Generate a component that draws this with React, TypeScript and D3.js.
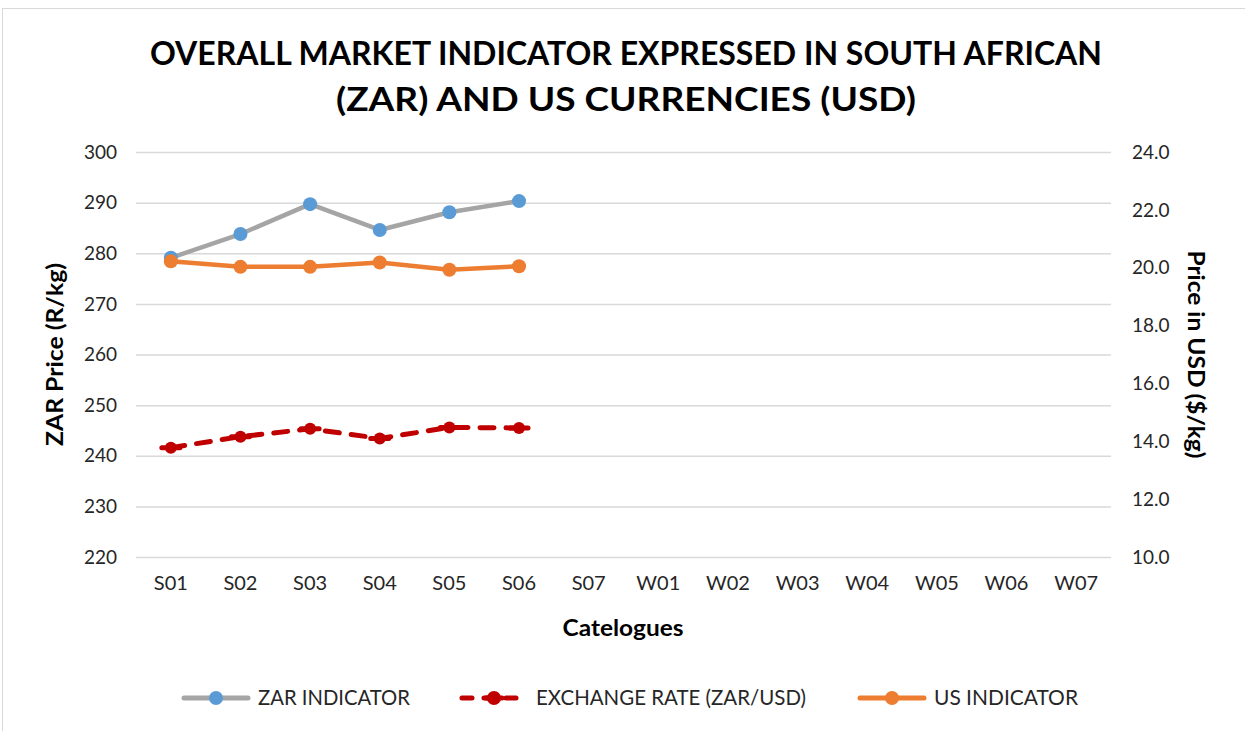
import { useEffect, useRef } from 'react';
import * as d3 from 'd3';

const catalogues = ['S01', 'S02', 'S03', 'S04', 'S05', 'S06', 'S07', 'W01', 'W02', 'W03', 'W04', 'W05', 'W06', 'W07'];
const zarIndicator = [279.1, 283.8, 289.7, 284.6, 288.1, 290.3];
const exchangeRate = [13.78, 14.16, 14.43, 14.1, 14.48, 14.46];
const usIndicator = [20.22, 20.03, 20.03, 20.18, 19.93, 20.05];
const leftTicks = [220, 230, 240, 250, 260, 270, 280, 290, 300];
const rightTicks = [10, 12, 14, 16, 18, 20, 22, 24];

const FONT = 'Lato, "Open Sans", sans-serif';

export default function App() {
  const svgRef = useRef<SVGSVGElement>(null);
  const width = 1245;
  const height = 731;

  useEffect(() => {
    if (!svgRef.current) return;
    const svg = d3.select(svgRef.current);
    svg.selectAll('*').remove();

    const plot = { left: 136, right: 1111, top: 152, bottom: 557 };

    const x = d3.scaleBand<string>()
      .domain(catalogues)
      .range([plot.left, plot.right]);
    const cx = (c: string) => (x(c) ?? 0) + x.bandwidth() / 2;
    const yLeft = d3.scaleLinear().domain([220, 300]).range([plot.bottom, plot.top]);
    const yRight = d3.scaleLinear().domain([10, 24]).range([plot.bottom, plot.top]);

    // chart border
    svg.append('rect')
      .attr('x', 2.5).attr('y', 8.5)
      .attr('width', width + 10).attr('height', height)
      .attr('fill', '#fff')
      .attr('stroke', '#d9d9d9');

    // title
    const title = ['OVERALL MARKET INDICATOR EXPRESSED IN SOUTH AFRICAN', '(ZAR) AND US CURRENCIES (USD)'];
    const titleWidths = [952, 580];
    title.forEach((t, i) => {
      svg.append('text')
        .attr('x', 626)
        .attr('y', 65 + i * 46)
        .attr('text-anchor', 'middle')
        .attr('font-family', FONT)
        .attr('font-weight', 'bold')
        .attr('font-size', 33)
        .attr('textLength', titleWidths[i])
        .attr('lengthAdjust', 'spacingAndGlyphs')
        .attr('fill', '#000')
        .text(t);
    });

    // gridlines
    svg.append('g')
      .selectAll('line')
      .data(leftTicks)
      .join('line')
      .attr('x1', plot.left)
      .attr('x2', plot.right)
      .attr('y1', (d) => yLeft(d) + 0.5)
      .attr('y2', (d) => yLeft(d) + 0.5)
      .attr('stroke', '#d9d9d9')
      .attr('stroke-width', 1.5);

    // left axis labels
    svg.append('g')
      .selectAll('text')
      .data(leftTicks)
      .join('text')
      .attr('x', 117)
      .attr('y', (d) => yLeft(d))
      .attr('dy', '0.35em')
      .attr('text-anchor', 'end')
      .attr('font-family', FONT)
      .attr('font-size', 19)
      .attr('fill', '#262626')
      .text((d) => d);

    // right axis labels
    svg.append('g')
      .selectAll('text')
      .data(rightTicks)
      .join('text')
      .attr('x', 1132)
      .attr('y', (d) => yRight(d))
      .attr('dy', '0.35em')
      .attr('text-anchor', 'start')
      .attr('font-family', FONT)
      .attr('font-size', 19)
      .attr('fill', '#262626')
      .text((d) => d.toFixed(1));

    // category labels
    svg.append('g')
      .selectAll('text')
      .data(catalogues)
      .join('text')
      .attr('x', (d) => cx(d))
      .attr('y', 590)
      .attr('text-anchor', 'middle')
      .attr('font-family', FONT)
      .attr('font-size', 20)
      .attr('fill', '#262626')
      .text((d) => d);

    // axis titles
    svg.append('text')
      .attr('transform', `translate(63, ${(plot.top + plot.bottom) / 2}) rotate(-90)`)
      .attr('text-anchor', 'middle')
      .attr('font-family', FONT)
      .attr('font-weight', 'bold')
      .attr('font-size', 23)
      .attr('textLength', 183)
      .attr('lengthAdjust', 'spacingAndGlyphs')
      .attr('fill', '#000')
      .text('ZAR Price (R/kg)');

    svg.append('text')
      .attr('transform', `translate(1188, ${(plot.top + plot.bottom) / 2}) rotate(90)`)
      .attr('text-anchor', 'middle')
      .attr('font-family', FONT)
      .attr('font-weight', 'bold')
      .attr('font-size', 23)
      .attr('textLength', 208)
      .attr('lengthAdjust', 'spacingAndGlyphs')
      .attr('fill', '#000')
      .text('Price in USD ($/kg)');

    svg.append('text')
      .attr('x', 623)
      .attr('y', 636)
      .attr('text-anchor', 'middle')
      .attr('font-family', FONT)
      .attr('font-weight', 'bold')
      .attr('font-size', 23)
      .attr('textLength', 121)
      .attr('lengthAdjust', 'spacingAndGlyphs')
      .attr('fill', '#000')
      .text('Catelogues');

    const cats = catalogues.slice(0, 6);

    // ZAR indicator
    const zarLine = d3.line<number>()
      .x((_, i) => cx(cats[i]))
      .y((d) => yLeft(d));
    svg.append('path')
      .datum(zarIndicator)
      .attr('d', zarLine)
      .attr('fill', 'none')
      .attr('stroke', '#a5a5a5')
      .attr('stroke-width', 4.5)
      .attr('stroke-linejoin', 'round');
    svg.append('g')
      .selectAll('circle')
      .data(zarIndicator)
      .join('circle')
      .attr('cx', (_, i) => cx(cats[i]))
      .attr('cy', (d) => yLeft(d))
      .attr('r', 7)
      .attr('fill', '#5b9bd5');

    // exchange rate
    const exLine = d3.line<number>()
      .x((_, i) => cx(cats[i]))
      .y((d) => yRight(d));
    svg.append('path')
      .datum(exchangeRate)
      .attr('d', exLine)
      .attr('fill', 'none')
      .attr('stroke', '#c00000')
      .attr('stroke-width', 5)
      .attr('stroke-dasharray', '14 12')
      .attr('stroke-linecap', 'round');
    const exMarks = svg.append('g')
      .selectAll('g')
      .data(exchangeRate)
      .join('g')
      .attr('transform', (d, i) => `translate(${cx(cats[i])}, ${yRight(d)})`);
    exMarks.append('circle')
      .attr('r', 6)
      .attr('fill', '#c00000');
    exMarks.append('line')
      .attr('x1', -9).attr('x2', 9)
      .attr('stroke', '#c00000')
      .attr('stroke-width', 5)
      .attr('stroke-linecap', 'round');

    // US indicator
    const usLine = d3.line<number>()
      .x((_, i) => cx(cats[i]))
      .y((d) => yRight(d));
    svg.append('path')
      .datum(usIndicator)
      .attr('d', usLine)
      .attr('fill', 'none')
      .attr('stroke', '#ed7d31')
      .attr('stroke-width', 4.5)
      .attr('stroke-linejoin', 'round');
    svg.append('g')
      .selectAll('circle')
      .data(usIndicator)
      .join('circle')
      .attr('cx', (_, i) => cx(cats[i]))
      .attr('cy', (d) => yRight(d))
      .attr('r', 7)
      .attr('fill', '#ed7d31');

    // legend
    const legendY = 698;
    const legend = [
      { label: 'ZAR INDICATOR', x: 182, w: 152, line: '#a5a5a5', marker: '#5b9bd5', dashed: false },
      { label: 'EXCHANGE RATE (ZAR/USD)', x: 460, w: 270, line: '#c00000', marker: '#c00000', dashed: true },
      { label: 'US INDICATOR', x: 858, w: 144, line: '#ed7d31', marker: '#ed7d31', dashed: false },
    ];
    legend.forEach((item) => {
      const g = svg.append('g').attr('transform', `translate(${item.x}, ${legendY})`);
      g.append('line')
        .attr('x1', 2).attr('x2', 66)
        .attr('stroke', item.line)
        .attr('stroke-width', 5)
        .attr('stroke-linecap', 'round')
        .attr('stroke-dasharray', item.dashed ? '10 12' : null);
      g.append('circle')
        .attr('cx', 34)
        .attr('r', 7)
        .attr('fill', item.marker);
      if (item.dashed) {
        g.append('line')
          .attr('x1', 26).attr('x2', 42)
          .attr('stroke', item.marker)
          .attr('stroke-width', 5)
          .attr('stroke-linecap', 'round');
      }
      g.append('text')
        .attr('x', 76)
        .attr('dy', '0.35em')
        .attr('font-family', FONT)
        .attr('font-size', 21)
        .attr('textLength', item.w)
        .attr('lengthAdjust', 'spacingAndGlyphs')
        .attr('fill', '#262626')
        .text(item.label);
    });
  }, []);

  return (
    <div style={{ position: 'absolute', left: 0, top: 0 }}>
      <svg ref={svgRef} width={width} height={height} style={{ display: 'block' }} />
    </div>
  );
}
